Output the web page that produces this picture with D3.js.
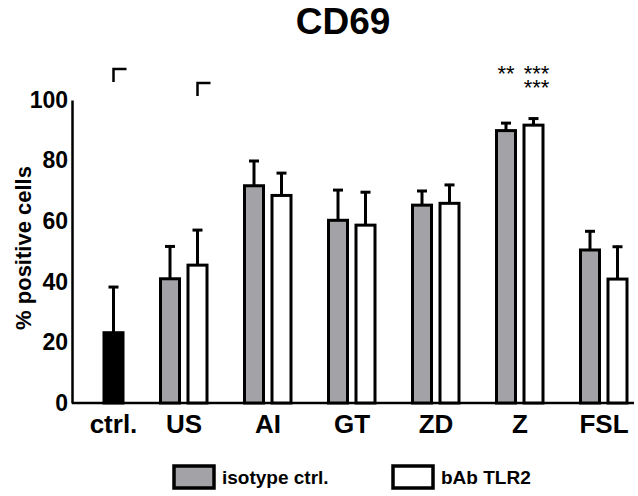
<!DOCTYPE html>
<html>
<head>
<meta charset="utf-8">
<script src="https://cdn.jsdelivr.net/npm/d3@7"></script>
<style>
  body { margin: 0; background: #fff; }
  svg { display: block; font-family: "Liberation Sans", Arial, sans-serif; font-weight: bold; }
</style>
</head>
<body>
<svg id="chart" width="638" height="496"></svg>
<script>
// categories and values
const categories = ["ctrl.", "US", "AI", "GT", "ZD", "Z", "FSL"];
const ctrlValue = 23.2;
const ctrlErr = 15.4;
const isotypeValues = [null, 41.0, 71.7, 60.3, 65.3, 89.9, 50.5];
const isotypeErr = [null, 11.0, 8.5, 10.3, 5.0, 2.8, 6.5];
const babValues = [null, 45.5, 68.5, 58.7, 65.9, 91.7, 40.9];
const babErr = [null, 11.9, 7.7, 11.2, 6.4, 2.5, 11.0];
const yTicks = [0, 20, 40, 60, 80, 100];
const seriesNames = ["isotype ctrl.", "bAb TLR2"];

const svg = d3.select("#chart");
const grey = "#a3a3a7";

const x = d3.scalePoint().domain(categories).range([100, 604]);
const y = d3.scaleLinear().domain([0, 100]).range([403, 100]);
const slot = d3.scalePoint().domain(seriesNames).range([-14, 13.5]);
const barW = 19;

// title
svg.append("text")
    .attr("x", 343).attr("y", 34)
    .attr("text-anchor", "middle")
    .style("font-size", "37px")
    .text("CD69");

// y axis label
svg.append("text")
    .attr("transform", "translate(31,248)rotate(-90)")
    .attr("text-anchor", "middle")
    .style("font-size", "22px")
    .text("% positive cells");

// y axis
const yAxis = svg.append("g")
    .attr("transform", "translate(72,0)")
    .call(d3.axisLeft(y).tickValues(yTicks).tickSize(0).tickPadding(4));
yAxis.select(".domain").attr("stroke", "#000").attr("stroke-width", 2.5);
yAxis.selectAll("text")
    .style("font-size", "23px").style("font-weight", "bold")
    .style("font-family", "Liberation Sans, Arial, sans-serif")
    .attr("fill", "#000");

// x axis line
svg.append("line")
    .attr("x1", 72).attr("x2", 634)
    .attr("y1", y(0)).attr("y2", y(0))
    .attr("stroke", "#000").attr("stroke-width", 2.5);

// bar data
let bars = [];
categories.forEach(function(c, i) {
    if (i === 0) {
        bars.push({cat: c, cx: x(c) + slot("bAb TLR2"), v: ctrlValue, e: ctrlErr, fill: "#000"});
    } else {
        bars.push({cat: c, cx: x(c) + slot("isotype ctrl."), v: isotypeValues[i], e: isotypeErr[i], fill: grey});
        bars.push({cat: c, cx: x(c) + slot("bAb TLR2"), v: babValues[i], e: babErr[i], fill: "#fff"});
    }
});

// error bars (upper only)
const eb = svg.append("g").attr("stroke", "#000").attr("stroke-width", 3);
bars.forEach(function(b) {
    eb.append("line")
        .attr("x1", b.cx).attr("x2", b.cx)
        .attr("y1", y(b.v)).attr("y2", y(b.v + b.e));
    eb.append("line")
        .attr("x1", b.cx - 5).attr("x2", b.cx + 5)
        .attr("y1", y(b.v + b.e) + 1).attr("y2", y(b.v + b.e) + 1);
});

svg.append("g").selectAll("rect")
    .data(bars)
    .join("rect")
    .attr("x", d => d.cx - barW / 2)
    .attr("y", d => y(d.v))
    .attr("width", barW)
    .attr("height", d => y(0) - y(d.v))
    .attr("fill", d => d.fill)
    .attr("stroke", "#000")
    .attr("stroke-width", 3);

// category labels
svg.append("g").selectAll("text")
    .data(categories)
    .join("text")
    .attr("x", (d, i) => i === 0 ? x(d) + slot("bAb TLR2") : x(d))
    .attr("y", 433)
    .attr("text-anchor", "middle")
    .style("font-size", "26px")
    .text(d => d);

// corner marks above ctrl and US
const marks = [{cat: "ctrl.", s: "bAb TLR2", top: 69}, {cat: "US", s: "bAb TLR2", top: 83}];
marks.forEach(function(m) {
    const mx = x(m.cat) + slot(m.s);
    svg.append("path")
        .attr("d", "M" + mx + "," + (m.top + 13) + "V" + m.top + "H" + (mx + 13))
        .attr("fill", "none").attr("stroke", "#000").attr("stroke-width", 2.5);
});

// significance stars over Z (one text element)
const stars = svg.append("text")
    .attr("text-anchor", "middle")
    .style("font-size", "22px").style("font-weight", "normal");
stars.append("tspan")
    .attr("x", x("Z") + slot("isotype ctrl.")).attr("y", 81)
    .text("**");
stars.append("tspan")
    .attr("x", x("Z") + slot("bAb TLR2") + 3).attr("y", 81)
    .text("***");
stars.append("tspan")
    .attr("x", x("Z") + slot("bAb TLR2") + 3).attr("y", 95)
    .text("***");

// legend
const legend = svg.append("g");
const legendX = [174, 393];
seriesNames.forEach(function(s, i) {
    legend.append("rect")
        .attr("x", legendX[i]).attr("y", 466)
        .attr("width", 40).attr("height", 22)
        .attr("fill", i === 0 ? grey : "#fff")
        .attr("stroke", "#000").attr("stroke-width", 3.5);
    legend.append("text")
        .attr("x", legendX[i] + 48).attr("y", 484)
        .style("font-size", "19px")
        .text(s);
});
</script>
</body>
</html>
